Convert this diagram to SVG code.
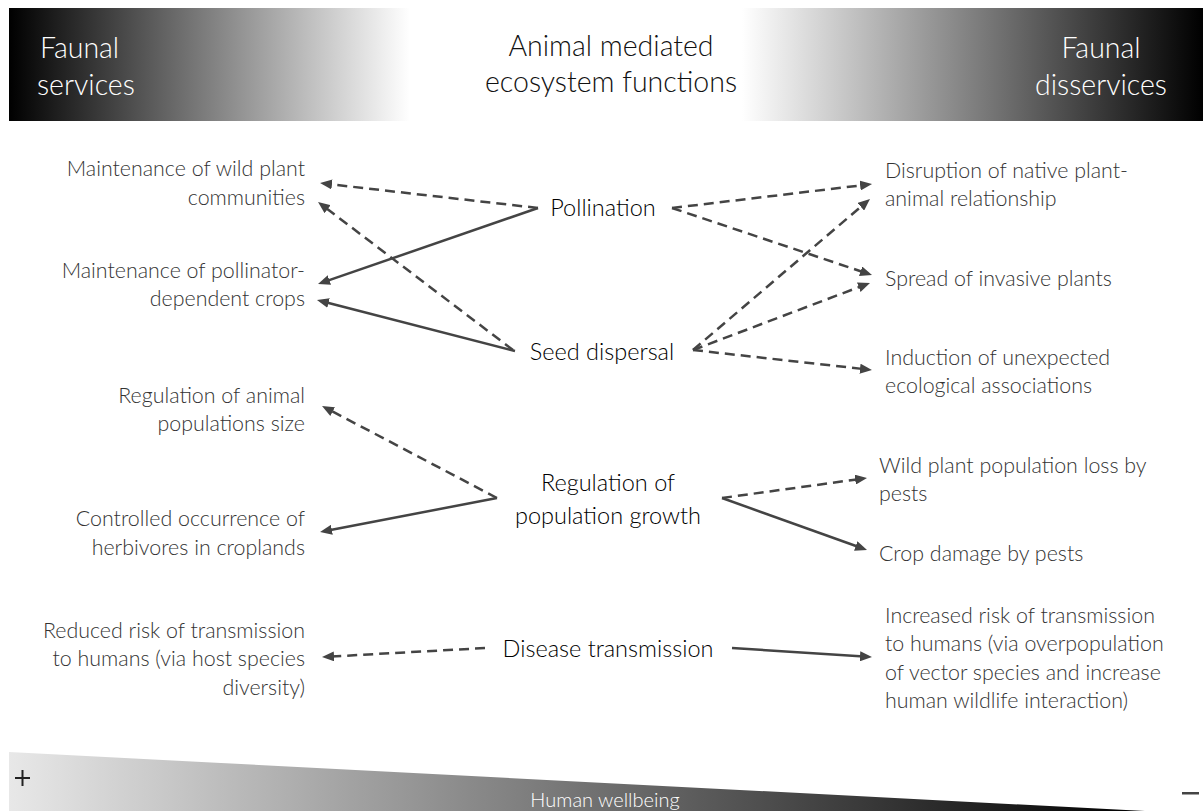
<svg xmlns="http://www.w3.org/2000/svg" width="1203" height="811" viewBox="0 0 1203 811">
<defs>
<linearGradient id="gl" x1="0" y1="0" x2="1" y2="0"><stop offset="0" stop-color="#000"/><stop offset="1" stop-color="#fff"/></linearGradient>
<linearGradient id="gr" x1="0" y1="0" x2="1" y2="0"><stop offset="0" stop-color="#fff"/><stop offset="1" stop-color="#000"/></linearGradient>
<linearGradient id="gb" gradientUnits="userSpaceOnUse" x1="9" y1="0" x2="1145" y2="0"><stop offset="0" stop-color="#e8e8e8"/><stop offset="1" stop-color="#000"/></linearGradient>
<marker id="ah" viewBox="0 0 12 10" refX="4" refY="5" markerWidth="12" markerHeight="10" markerUnits="userSpaceOnUse" orient="auto"><path d="M0,0 L12,5 L0,10 z" fill="#444"/></marker>
</defs>
<style>
text{font-family:Lato,"Open Sans","Liberation Sans",sans-serif;font-weight:300}
.s{font-size:21.4px;fill:#333}
.l{text-anchor:end}
.c{font-size:23.5px;fill:#000;text-anchor:middle}
.h{font-size:28.5px}
.w{fill:#fff}
.k{fill:#111}
.ln{fill:none;stroke:#444;stroke-width:2.5;marker-end:url(#ah)}
.d{stroke-dasharray:10 6}
</style>
<rect width="1203" height="811" fill="#fff"/>
<g id="header">
<rect x="9" y="8" width="401" height="113" fill="url(#gl)"/>
<rect x="742" y="8" width="461" height="113" fill="url(#gr)"/>
<text class="h w" x="40" y="58">Faunal</text>
<text class="h w" x="37" y="95">services</text>
<text class="h w" x="1101" y="58" text-anchor="middle">Faunal</text>
<text class="h w" x="1101" y="95" text-anchor="middle">disservices</text>
<text class="h k" x="611" y="56" text-anchor="middle">Animal mediated</text>
<text class="h k" x="611" y="92" text-anchor="middle">ecosystem functions</text>
</g>
<g id="connectors">
<line class="ln d" x1="538" y1="208" x2="328" y2="184"/>
<line class="ln d" x1="513" y1="350" x2="324.4" y2="206.8"/>
<line class="ln" x1="538" y1="208" x2="325.6" y2="281.4"/>
<line class="ln" x1="515" y1="351" x2="324.7" y2="302"/>
<line class="ln d" x1="672" y1="208" x2="864.1" y2="185"/>
<line class="ln d" x1="672" y1="208" x2="864.4" y2="272.5"/>
<line class="ln d" x1="693" y1="350" x2="863.9" y2="204.2"/>
<line class="ln d" x1="693" y1="350" x2="862.5" y2="285.8"/>
<line class="ln d" x1="693" y1="350" x2="864" y2="369.1"/>
<line class="ln d" x1="497" y1="498" x2="329.1" y2="409.7"/>
<line class="ln" x1="497" y1="498" x2="327.9" y2="530.5"/>
<line class="ln d" x1="722" y1="498" x2="859.1" y2="479.1"/>
<line class="ln" x1="722" y1="498" x2="859.5" y2="547.3"/>
<line class="ln d" x1="485" y1="648" x2="330" y2="656.6"/>
<line class="ln" x1="732" y1="648" x2="864" y2="656.5"/>
</g>
<g id="pollination"><text class="c" x="603" y="216">Pollination</text></g>
<g id="seed-dispersal"><text class="c" x="602" y="360">Seed dispersal</text></g>
<g id="regulation"><text class="c" x="608" y="491">Regulation of</text><text class="c" x="608" y="524">population growth</text></g>
<g id="disease"><text class="c" x="608" y="657">Disease transmission</text></g>
<g id="s-wild-plant"><text class="s l" x="305" y="176">Maintenance of wild plant</text><text class="s l" x="305" y="205">communities</text></g>
<g id="s-crops"><text class="s l" x="305" y="278">Maintenance of pollinator-</text><text class="s l" x="305" y="306">dependent crops</text></g>
<g id="s-animal-pop"><text class="s l" x="305" y="403">Regulation of animal</text><text class="s l" x="305" y="431">populations size</text></g>
<g id="s-herbivores"><text class="s l" x="305" y="526">Controlled occurrence of</text><text class="s l" x="305" y="555">herbivores in croplands</text></g>
<g id="s-reduced-risk"><text class="s l" x="305" y="638">Reduced risk of transmission</text><text class="s l" x="305" y="666">to humans (via host species</text><text class="s l" x="305" y="695">diversity)</text></g>
<g id="d-disruption"><text class="s" x="885" y="178">Disruption of native plant-</text><text class="s" x="885" y="206">animal relationship</text></g>
<g id="d-spread"><text class="s" x="885" y="286">Spread of invasive plants</text></g>
<g id="d-induction"><text class="s" x="885" y="365">Induction of unexpected</text><text class="s" x="885" y="393">ecological associations</text></g>
<g id="d-wild-loss"><text class="s" x="879" y="473">Wild plant population loss by</text><text class="s" x="879" y="501">pests</text></g>
<g id="d-crop-damage"><text class="s" x="879" y="561">Crop damage by pests</text></g>
<g id="d-increased-risk"><text class="s" x="885" y="623">Increased risk of transmission</text><text class="s" x="885" y="651">to humans (via overpopulation</text><text class="s" x="885" y="680">of vector species and increase</text><text class="s" x="885" y="708">human wildlife interaction)</text></g>
<g id="wellbeing">
<polygon points="9,752 1145,811 9,811" fill="url(#gb)"/>
<text x="605" y="807" font-size="20" fill="#fff" text-anchor="middle">Human wellbeing</text>
<path d="M15,778 H30 M22.5,770 V786" stroke="#222" stroke-width="2" fill="none"/>
<rect x="1182" y="792" width="17" height="2.5" fill="#444"/>
</g>
</svg>
